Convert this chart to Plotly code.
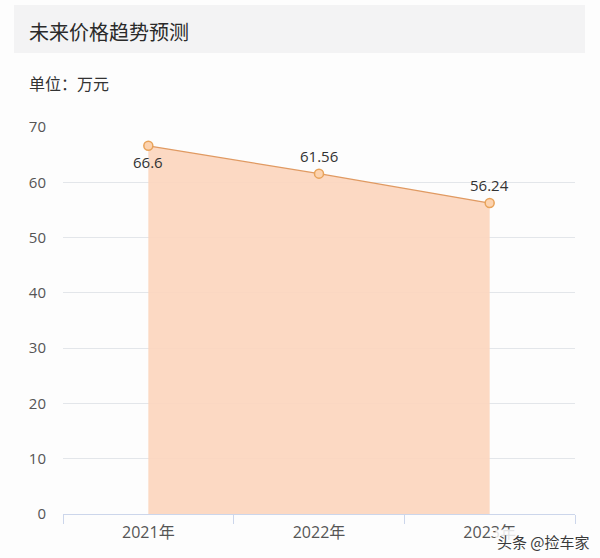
import plotly.graph_objects as go

categories = ["2021年", "2022年", "2023年"]
prices = [66.6, 61.56, 56.24]
label_shifts = [-16, 18, 18]
y_ticks = [0, 10, 20, 30, 40, 50, 60, 70]

FONT = "Noto Sans CJK SC, Noto Sans, sans-serif"
NUMFONT = "Open Sans, Noto Sans CJK SC, sans-serif"

fig = go.Figure()
fig.add_trace(go.Scatter(
    x=categories, y=prices,
    mode="lines+markers",
    fill="tozeroy",
    fillcolor="rgba(252,214,190,0.92)",
    line=dict(color="#e09a62", width=1.3),
    marker=dict(size=9, color="#fcd3b0", line=dict(color="#e8a35a", width=1.5)),
    cliponaxis=False,
    hoverinfo="skip",
))

for c, v, s in zip(categories, prices, label_shifts):
    fig.add_annotation(x=c, y=v, text=str(v), showarrow=False,
                       yshift=s, xanchor="center", yanchor="middle",
                       font=dict(size=15, color="#333333", family=NUMFONT))

L, R, T, B = 63, 25, 127, 44
W, H = 600, 558
pw = W - L - R
ph = H - T - B

def px_x(x):
    return (x - L) / pw

def px_y(y):
    return (H - B - y) / ph

fig.add_shape(type="rect", xref="paper", yref="paper",
              x0=px_x(14), x1=px_x(585), y0=px_y(53), y1=px_y(5),
              fillcolor="#f3f3f4", line=dict(width=0), layer="below")

fig.add_annotation(xref="paper", yref="paper", x=px_x(27), y=px_y(31),
                   text="未来价格趋势预测", showarrow=False,
                   xanchor="left", yanchor="middle",
                   font=dict(size=20, color="#2a2a2a", family=FONT))
fig.add_annotation(xref="paper", yref="paper", x=px_x(27), y=px_y(83),
                   text="单位：万元", showarrow=False,
                   xanchor="left", yanchor="middle",
                   font=dict(size=16, color="#333333", family=FONT))
fig.add_annotation(xref="paper", yref="paper", x=px_x(592), y=px_y(541),
                   text="头条 @捡车家", showarrow=False,
                   xanchor="right", yanchor="middle",
                   bgcolor="rgba(253,253,253,0.85)",
                   font=dict(size=15, color="#3a3a3a", family=FONT))

fig.update_layout(
    width=W, height=H,
    margin=dict(l=L, r=R, t=T, b=B),
    paper_bgcolor="#fdfdfd",
    plot_bgcolor="#fdfdfd",
    showlegend=False,
    font=dict(family=FONT),
)
fig.update_xaxes(
    type="category", range=[-0.5, 2.5],
    tickson="boundaries", ticks="outside", ticklen=9, tickcolor="#ccd6eb",
    showline=True, linecolor="#ccd6eb", linewidth=1,
    showgrid=False, zeroline=False,
    ticklabelstandoff=4,
    tickfont=dict(size=16, color="#555555", family=NUMFONT),
)
fig.update_yaxes(
    range=[0, 70], tickvals=y_ticks,
    showgrid=True, gridcolor="#e3e6ea", gridwidth=1,
    zeroline=False, showline=False,
    ticks="", ticklabelstandoff=16,
    tickfont=dict(size=15, color="#555555", family=NUMFONT),
)

fig.write_html("out.html",
               config={"displayModeBar": False},
               post_script="document.body.style.margin='0';document.body.style.overflow='hidden';")
